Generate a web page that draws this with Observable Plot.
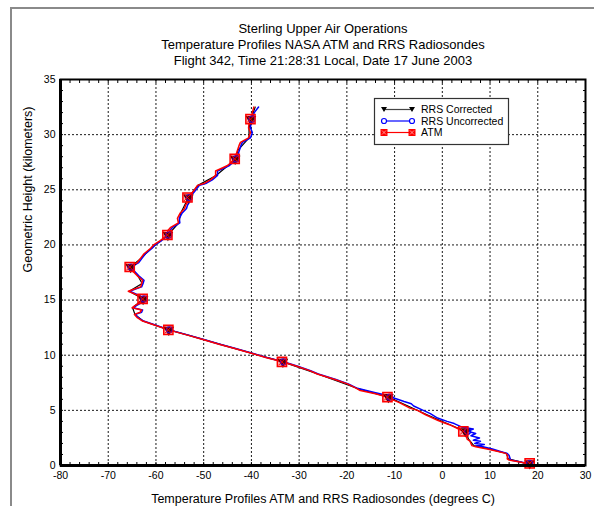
<!DOCTYPE html>
<html>
<head>
<meta charset="utf-8">
<script src="https://cdn.jsdelivr.net/npm/d3@7"></script>
<script src="https://cdn.jsdelivr.net/npm/@observablehq/plot@0.6"></script>
<style>
  body { margin: 0; background: #fff; }
  #chart { position: relative; width: 594px; height: 506px; overflow: hidden; font-family: "Liberation Sans", Arial, sans-serif; }
  #sheet { position: absolute; left: 10px; top: 7px; width: 700px; height: 700px; border-left: 2px solid #8a8a8a; border-top: 2px solid #8a8a8a; }
  #chart svg { position: absolute; left: 0; top: 0; }
</style>
</head>
<body>
<div id="chart"><div id="sheet"></div></div>
<script>
// Titles and axis labels
const titleLines = [
  "Sterling Upper Air Operations",
  "Temperature Profiles NASA ATM and RRS Radiosondes",
  "Flight 342, Time 21:28:31 Local, Date 17 June 2003"
];
const xTitle = "Temperature Profiles ATM and RRS Radiosondes (degrees C)";
const yTitle = "Geometric Height (kilometers)";

// Axis domains and ticks
const xDomain = [-80, 30];
const yDomain = [0, 35];
const xTicks = [-80, -70, -60, -50, -40, -30, -20, -10, 0, 10, 20, 30];
const yTicks = [0, 5, 10, 15, 20, 25, 30, 35];
const xGrid = [-70, -60, -50, -40, -30, -20, -10, 0, 10, 20];
const yGrid = [5, 10, 15, 20, 25, 30];
const xMinor = d3.range(-78, 30, 2);
const yMinor = d3.range(1, 35, 1);

// Legend entries
const seriesNames = ["RRS Corrected", "RRS Uncorrected", "ATM"];
const seriesColors = ["#000000", "#0000ff", "#ff0000"];

// ATM profile: height (km) and temperature (deg C)
const atmHeight = [
  0, 0.15, 0.3, 0.5, 0.6, 0.9, 1.1, 1.3, 1.5, 1.7,
  1.8, 2.0, 2.2, 2.4, 2.7, 3.1, 3.4, 3.7, 3.9, 4.1,
  4.3, 4.6, 5.0, 5.2, 5.4, 5.7, 6.0, 6.2, 6.5, 6.8,
  7.0, 7.4, 7.8, 8.3, 8.6, 9.0, 9.4, 9.8, 10.2, 10.6,
  11.0, 11.4, 11.8, 12.3, 12.8, 13.1, 13.4, 13.7, 13.9, 14.1,
  14.3, 14.5, 14.8, 15.1, 15.4, 15.8, 16.0, 16.2, 16.5, 16.8,
  17.2, 17.6, 18.0, 18.4, 18.8, 19.2, 19.7, 20.0, 20.4, 20.9,
  21.3, 21.6, 22.0, 22.4, 22.9, 23.3, 23.6, 24.0, 24.3, 24.9,
  25.4, 25.6, 25.9, 26.3, 26.7, 27.0, 27.2, 27.5, 27.8, 28.2,
  28.6, 29.0, 29.3, 29.7, 30.2, 30.6, 31.0, 31.4, 32.0, 32.5
];
const atmTemp = [
  18.5, 18.0, 16.5, 14.0, 13.6, 13.7, 13.3, 11.5, 9.4, 7.0,
  6.2, 6.0, 5.8, 5.2, 5.0, 4.4, 3.0, 1.5, 0.2, -1.0,
  -2.0, -3.5, -5.2, -6.8, -7.7, -9.0, -10.6, -11.5, -14.0, -17.2,
  -18.0, -19.9, -22.5, -26.2, -27.8, -30.5, -33.5, -37.0, -40.2, -43.5,
  -46.8, -50.0, -53.2, -57.4, -60.8, -62.8, -63.9, -64.5, -63.3, -63.0,
  -65.0, -64.4, -63.2, -62.8, -63.6, -65.8, -64.5, -63.2, -63.0, -62.8,
  -63.9, -64.8, -65.5, -63.9, -63.2, -62.5, -61.1, -60.5, -59.1, -57.6,
  -57.5, -56.9, -55.3, -55.5, -54.9, -54.0, -53.8, -53.2, -53.4, -52.1,
  -51.3, -49.8, -48.6, -47.5, -47.5, -46.0, -45.0, -44.2, -43.5, -43.2,
  -42.9, -42.6, -42.3, -40.6, -40.2, -40.6, -40.5, -40.2, -39.8, -39.5
];

// RRS uncorrected profile
const uncHeight = [
  0, 0.15, 0.3, 0.5, 0.9, 1.1, 1.3, 1.5, 1.7, 1.8,
  1.9, 2.0, 2.2, 2.3, 2.5, 2.7, 2.9, 3.1, 3.3, 3.5,
  3.8, 4.0, 4.3, 4.7, 5.0, 5.4, 5.6, 5.8, 6.1, 6.3,
  6.6, 7.0, 7.4, 7.8, 8.3, 8.6, 9.0, 9.4, 9.8, 10.2,
  10.6, 11.0, 11.4, 11.8, 12.3, 12.8, 13.1, 13.4, 13.7, 13.9,
  14.1, 14.3, 14.5, 14.8, 15.1, 15.4, 15.8, 16.0, 16.2, 16.5,
  16.8, 17.2, 17.6, 18.0, 18.4, 18.8, 19.2, 19.7, 20.0, 20.4,
  20.9, 21.3, 21.6, 22.0, 22.4, 22.9, 23.3, 23.6, 24.0, 24.3,
  24.9, 25.4, 25.6, 25.9, 26.3, 26.7, 27.0, 27.2, 27.5, 27.8,
  28.2, 28.6, 29.0, 29.3, 29.7, 30.2, 30.6, 31.0, 31.4, 32.0, 32.5
];
const uncTemp = [
  18.5, 18.0, 16.7, 14.3, 14.0, 13.6, 12.0, 10.5, 8.5, 7.2,
  8.8, 6.8, 8.0, 6.5, 7.8, 6.0, 7.0, 5.3, 6.5, 4.0,
  2.5, 1.0, -1.0, -2.5, -4.0, -6.0, -6.5, -8.0, -10.0, -11.0,
  -14.0, -17.8, -19.7, -22.3, -26.0, -27.6, -30.3, -33.3, -36.8, -40.0,
  -43.3, -46.6, -49.8, -53.0, -57.2, -60.6, -62.6, -63.7, -64.3, -63.0,
  -62.8, -64.8, -64.1, -62.9, -62.5, -63.4, -65.5, -64.3, -63.0, -62.7,
  -62.5, -63.6, -64.5, -65.2, -63.6, -62.9, -62.2, -60.8, -60.2, -58.8,
  -57.3, -57.1, -56.5, -55.0, -55.1, -54.5, -53.6, -53.4, -52.8, -53.0,
  -51.8, -50.9, -49.4, -48.2, -47.1, -47.1, -45.6, -44.6, -43.8, -43.2,
  -42.8, -42.5, -42.2, -41.9, -40.2, -39.8, -40.2, -40.1, -39.9, -39.4, -38.5
];

// RRS corrected profile
const corHeight = [
  0, 0.3, 0.6, 1.1, 1.5, 1.8, 2.4, 3.1, 3.9, 4.6,
  5.4, 6.2, 7.0, 8.3, 9.4, 10.6, 11.8, 12.3, 13.1, 13.7,
  14.3, 15.1, 15.8, 16.5, 17.2, 18.0, 18.8, 19.7, 20.9, 22.0,
  22.9, 24.3, 25.4, 26.3, 27.2, 27.8, 28.6, 29.7, 30.6, 31.4, 32.5
];
const corTemp = [
  18.4, 16.6, 13.8, 13.4, 9.8, 6.6, 5.5, 4.8, 0.5, -3.2,
  -7.2, -11.3, -17.9, -26.1, -33.4, -43.4, -53.1, -57.3, -62.7, -64.4,
  -64.9, -62.7, -65.6, -62.9, -63.8, -65.3, -63.1, -61.0, -57.5, -55.2,
  -54.8, -53.2, -51.2, -47.4, -44.9, -43.4, -42.8, -40.5, -40.5, -40.1, -39.2
];

// Plotted symbols, roughly every 3 km
const markerHeight = [0.2, 3.1, 6.2, 9.4, 12.3, 15.1, 18.0, 20.9, 24.3, 27.8, 31.4];
const atmMarkerTemp = [18.3, 4.4, -11.5, -33.6, -57.4, -62.8, -65.5, -57.6, -53.4, -43.5, -40.2];
const uncMarkerTemp = [18.3, 5.3, -11.0, -33.3, -57.2, -62.5, -65.2, -57.3, -53.0, -43.2, -39.9];
const corMarkerTemp = [18.3, 4.8, -11.3, -33.4, -57.3, -62.7, -65.3, -57.5, -53.2, -43.4, -40.1];

const rows = (hs, ts) => hs.map((h, i) => ({h, t: ts[i]})).filter(d => d.t !== undefined);
const atm = rows(atmHeight, atmTemp);
const unc = rows(uncHeight, uncTemp);
const cor = rows(corHeight, corTemp);
const atmMarks = rows(markerHeight, atmMarkerTemp);
const uncMarks = rows(markerHeight, uncMarkerTemp);
const corMarks = rows(markerHeight, corMarkerTemp);

const font = "Liberation Sans, Arial, sans-serif";
const fmt = d => String(d);
const blank = () => "";

const chart = Plot.plot({
  width: 594,
  height: 506,
  marginLeft: 60,
  marginRight: 9,
  marginTop: 79,
  marginBottom: 41,
  style: {background: "transparent", fontFamily: font, fontSize: "10.5px", color: "#000", overflow: "visible"},
  x: {domain: xDomain, label: null},
  y: {domain: yDomain, label: null},
  marks: [
    Plot.gridX(xGrid, {stroke: "#000", strokeOpacity: 0.9, strokeDasharray: "2,2"}),
    Plot.gridY(yGrid, {stroke: "#000", strokeOpacity: 0.9, strokeDasharray: "2,2"}),
    // inward minor ticks on all four sides
    Plot.axisX(xMinor, {anchor: "bottom", tickSize: -3, tickFormat: blank, label: null}),
    Plot.axisX(xMinor, {anchor: "top", tickSize: -3, tickFormat: blank, label: null}),
    Plot.axisY(yMinor, {anchor: "left", tickSize: -3, tickFormat: blank, label: null}),
    Plot.axisY(yMinor, {anchor: "right", tickSize: -3, tickFormat: blank, label: null}),
    // tick labels
    Plot.axisX(xTicks, {anchor: "bottom", tickSize: 0, tickPadding: 6, tickFormat: fmt, label: null, fontSize: 10.5}),
    Plot.axisY(yTicks, {anchor: "left", tickSize: 0, tickPadding: 5, tickFormat: fmt, label: null, fontSize: 10.5}),
    // profiles
    Plot.line(cor, {x: "t", y: "h", stroke: seriesColors[0], strokeWidth: 1.2}),
    Plot.line(unc, {x: "t", y: "h", stroke: seriesColors[1], strokeWidth: 1.5}),
    Plot.line(atm, {x: "t", y: "h", stroke: seriesColors[2], strokeWidth: 1.5}),
    Plot.dot(corMarks, {x: "t", y: "h", symbol: "triangle", rotate: 180, r: 3, fill: seriesColors[0], stroke: seriesColors[0]}),
    Plot.dot(uncMarks, {x: "t", y: "h", symbol: "circle", r: 3, fill: "none", stroke: seriesColors[1], strokeWidth: 1.2}),
    Plot.dot(atmMarks, {x: "t", y: "h", symbol: "square", r: 5.2, fill: seriesColors[2], fillOpacity: 0.3, stroke: seriesColors[2], strokeWidth: 1.5}),
    Plot.dot(atmMarks, {x: "t", y: "h", symbol: "times", r: 3.2, stroke: seriesColors[2], strokeWidth: 1}),
    // plot box
    Plot.frame({stroke: "#000", strokeWidth: 2}),
    Plot.ruleX([xDomain[0]], {stroke: "#000", strokeWidth: 3}),
    Plot.ruleY([yDomain[0]], {stroke: "#000", strokeWidth: 3}),
    // titles
    Plot.text([titleLines.join("\n")], {frameAnchor: "top", lineAnchor: "middle", dy: -36, fontSize: 13, lineHeight: 1.23, fill: "#000"}),
    Plot.text([xTitle], {frameAnchor: "bottom", lineAnchor: "middle", dy: 33, fontSize: 12.5, fill: "#000"}),
    Plot.text([yTitle], {frameAnchor: "left", lineAnchor: "middle", dx: -33, rotate: -90, fontSize: 12.5, fill: "#000"})
  ]
});

// Legend box in the upper right of the plot
const svg = d3.select(chart);
const lg = svg.append("g").attr("font-family", font).attr("font-size", 10.5).attr("text-anchor", "start");
lg.append("rect").attr("x", 374.5).attr("y", 98.5).attr("width", 134).attr("height", 46)
  .attr("fill", "#fff").attr("stroke", "#333").attr("stroke-width", 1.2);
const legendY = i => 109.5 + i * 11.5;
const lx0 = 384, lx1 = 412;
seriesNames.forEach((name, i) => {
  const y = legendY(i);
  const g = lg.append("g");
  g.append("line").attr("x1", lx0).attr("x2", lx1).attr("y1", y).attr("y2", y)
    .attr("stroke", i === 0 ? "#444" : seriesColors[i]).attr("stroke-width", 1.2);
  [lx0, lx1].forEach(x => {
    if (i === 0) {
      g.append("path").attr("d", `M${x - 3},${y - 2.5}L${x + 3},${y - 2.5}L${x},${y + 2.5}Z`).attr("fill", "#000");
    } else if (i === 1) {
      g.append("circle").attr("cx", x).attr("cy", y).attr("r", 2.5).attr("fill", "#fff").attr("stroke", seriesColors[i]).attr("stroke-width", 1.2);
    } else {
      g.append("rect").attr("x", x - 3.5).attr("y", y - 3.5).attr("width", 7).attr("height", 7).attr("fill", seriesColors[i]);
      g.append("path").attr("d", `M${x - 2},${y - 2}L${x + 2},${y + 2}M${x + 2},${y - 2}L${x - 2},${y + 2}`).attr("stroke", "#ffb0b0").attr("stroke-width", 0.8);
    }
  });
  g.append("text").attr("x", 421).attr("y", y).attr("dy", "0.35em").attr("fill", "#000").attr("text-anchor", "start").text(name);
});

document.getElementById("chart").appendChild(chart);
</script>
</body>
</html>
